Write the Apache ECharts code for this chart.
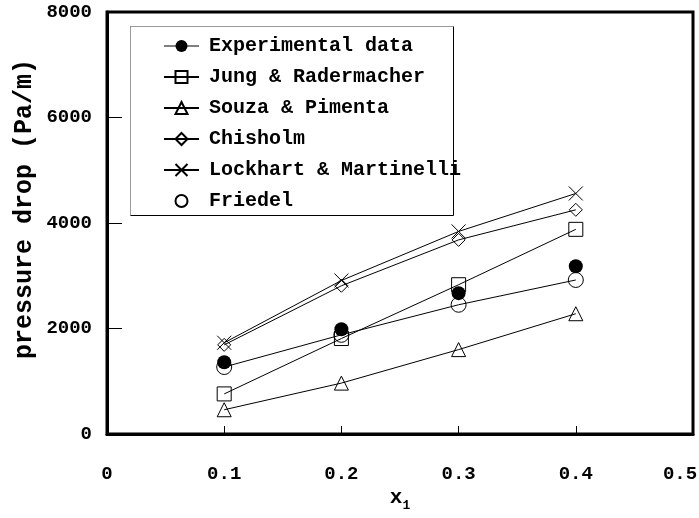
<!DOCTYPE html>
<html>
<head>
<meta charset="utf-8">
<script src="https://cdn.jsdelivr.net/npm/echarts@6/dist/echarts.min.js"></script>
<style>
  html, body { margin: 0; padding: 0; background: #fff; }
  #chart { width: 699px; height: 518px; }
</style>
</head>
<body>
<div id="chart"></div>
<script>
// Vapour quality x1 and pressure-drop values (Pa/m) for each data set
const quality = [0.1, 0.2, 0.3, 0.4];
const experimental = [1360, 1985, 2670, 3180];
const jungRadermacher = [760, 1810, 2830, 3880];
const souzaPimenta = [460, 965, 1600, 2280];
const chisholm = [1690, 2810, 3680, 4250];
const lockhartMartinelli = [1730, 2910, 3840, 4560];
const friedel = [1270, 1880, 2450, 2920];

const seriesNames = [
  'Experimental data',
  'Jung & Radermacher',
  'Souza & Pimenta',
  'Chisholm',
  'Lockhart & Martinelli',
  'Friedel'
];

const yTicks = [0, 2000, 4000, 6000, 8000];
const xTicks = [0, 0.1, 0.2, 0.3, 0.4, 0.5];

const FONT = '"Liberation Mono", "Courier New", monospace';
const crossPath = 'path://M0,0L10,10M10,0L0,10';

function pairs(values) {
  return quality.map((q, i) => [q, values[i]]);
}

function makeSeries(name, values, symbol, size, opts) {
  opts = opts || {};
  return {
    name: name,
    type: 'line',
    data: pairs(values),
    symbol: symbol,
    symbolSize: size,
    showAllSymbol: true,
    lineStyle: { color: '#000', width: 1, opacity: opts.noLine ? 0 : 1 },
    itemStyle: {
      color: opts.filled ? '#000' : 'rgba(0,0,0,0)',
      borderColor: '#000',
      borderWidth: opts.filled ? 0 : 1
    },
    emphasis: { disabled: true },
    z: 3
  };
}

const tickFont = { fontFamily: FONT, fontWeight: 'bold', fontSize: 19, color: '#000' };
const xMax = xTicks[xTicks.length - 1];

const chart = echarts.init(document.getElementById('chart'), null, { renderer: 'canvas' });

chart.setOption({
  animation: false,
  backgroundColor: '#fff',
  grid: {
    left: 107, right: 6, top: 12, bottom: 84,
    outerBoundsMode: 'none',
    containLabel: false,
    show: true, borderColor: '#000', borderWidth: 3, backgroundColor: 'transparent'
  },
  xAxis: {
    type: 'value',
    min: xTicks[0], max: xMax, interval: 0.1,
    axisLine: { show: true, lineStyle: { color: '#000', width: 3 } },
    axisTick: { show: true, inside: true, length: 8, lineStyle: { color: '#000', width: 1 } },
    splitLine: { show: false },
    axisLabel: Object.assign({
      margin: 31,
      hideOverlap: false,
      showMaxLabel: true,
      // the last label is nudged left so it stays inside the canvas
      formatter: v => {
        const s = String(Math.round(v * 10) / 10);
        return Math.abs(v - xMax) < 1e-9 ? '{m|' + s + '}' : s;
      },
      rich: { m: Object.assign({ padding: [0, 26, 0, 0] }, tickFont) }
    }, tickFont),
    name: '{x|x}{s|1}',
    nameLocation: 'middle',
    nameGap: 54,
    nameMoveOverlap: false,
    nameTextStyle: {
      rich: {
        x: { fontFamily: FONT, fontWeight: 'bold', fontSize: 21, color: '#000', lineHeight: 20, verticalAlign: 'middle' },
        s: { fontFamily: FONT, fontWeight: 'bold', fontSize: 13, color: '#000', lineHeight: 13, padding: [15, 0, 0, 0] }
      }
    }
  },
  yAxis: {
    type: 'value',
    min: yTicks[0], max: yTicks[yTicks.length - 1], interval: 2000,
    axisLine: { show: true, lineStyle: { color: '#000', width: 3 } },
    axisTick: { show: true, inside: true, length: 15, lineStyle: { color: '#000', width: 1 } },
    splitLine: { show: false },
    axisLabel: Object.assign({ margin: 15, formatter: v => String(v) }, tickFont),
    name: 'pressure drop (Pa/m)',
    nameLocation: 'middle',
    nameGap: 70,
    nameMoveOverlap: false,
    nameTextStyle: {
      fontFamily: FONT, fontWeight: 'bold', fontSize: 25, color: '#000',
      padding: [0, 0, 0, 28]
    }
  },
  legend: {
    orient: 'vertical',
    left: 163, top: 36,
    padding: 0,
    itemGap: 11,
    itemWidth: 35,
    itemHeight: 15,
    z: 20,
    textStyle: { fontFamily: FONT, fontWeight: 'bold', fontSize: 20, color: '#000', padding: [0, 0, 0, 5] },
    data: [
      { name: seriesNames[0], lineStyle: { opacity: 1, color: '#000', width: 1 } },
      { name: seriesNames[1] },
      { name: seriesNames[2] },
      { name: seriesNames[3] },
      { name: seriesNames[4] },
      { name: seriesNames[5], lineStyle: { opacity: 0 } }
    ],
    selectedMode: false
  },
  graphic: [
    {
      type: 'rect', z: 10,
      shape: { x: 130.5, y: 26.5, width: 323, height: 189 },
      style: { fill: '#fff', stroke: '#000', lineWidth: 1 }
    },
    {
      type: 'polyline', z: 11,
      shape: { points: [[130.5, 215.5], [130.5, 26.5], [453.5, 26.5]] },
      style: { stroke: '#9a9a9a', lineWidth: 1, fill: null }
    }
  ],
  series: [
    makeSeries(seriesNames[0], experimental, 'circle', 14, { filled: true, noLine: true }),
    makeSeries(seriesNames[1], jungRadermacher, 'rect', 14),
    makeSeries(seriesNames[2], souzaPimenta, 'triangle', 14),
    makeSeries(seriesNames[3], chisholm, 'diamond', 13),
    makeSeries(seriesNames[4], lockhartMartinelli, crossPath, 14),
    makeSeries(seriesNames[5], friedel, 'circle', 15)
  ]
});
</script>
</body>
</html>
